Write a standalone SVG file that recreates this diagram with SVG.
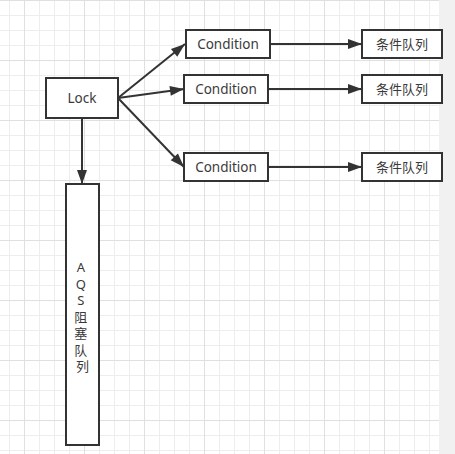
<svg xmlns="http://www.w3.org/2000/svg" width="455" height="454" viewBox="0 0 455 454">
  <defs>
    <pattern id="minor" patternUnits="userSpaceOnUse" x="0" y="0" width="15" height="15">
      <path d="M9.5,0 V15 M0,0.5 H15" stroke="#ededed" stroke-width="1" fill="none"/>
    </pattern>
    <pattern id="major" patternUnits="userSpaceOnUse" x="0" y="0" width="60" height="60">
      <path d="M24.5,0 V60 M0,0.5 H60" stroke="#e0e0e0" stroke-width="1" fill="none"/>
    </pattern>
    <marker id="arrow" markerUnits="userSpaceOnUse" markerWidth="15" markerHeight="11" refX="14" refY="5" orient="auto" overflow="visible">
      <path d="M0,0 L14,5 L0,10 Z" fill="#333"/>
    </marker>
  </defs>
  <style>
    .box { fill: #fff; stroke: #333; stroke-width: 2; }
    .lbl { font-family: "Noto Sans", "Noto Sans CJK SC", sans-serif; font-size: 13px; fill: #3a3a3a; text-anchor: middle; }
    .lat { font-size: 13.5px; }
    .edge { stroke: #333; stroke-width: 2; fill: none; marker-end: url(#arrow); }
  </style>
  <rect x="0" y="0" width="455" height="454" fill="#fff"/>
  <rect x="0" y="0" width="439" height="454" fill="url(#minor)"/>
  <rect x="0" y="0" width="439" height="454" fill="url(#major)"/>
  <rect x="439" y="0" width="16" height="454" fill="#f1f1f1"/>

  <g id="connectors">
    <path class="edge" d="M118,98 L185,44"/>
    <path class="edge" d="M118,98 L184,89"/>
    <path class="edge" d="M118,98 L184,167"/>
    <path class="edge" d="M82,118 L82,184"/>
    <path class="edge" d="M270,44 L362,44"/>
    <path class="edge" d="M268,89 L362,89"/>
    <path class="edge" d="M268,167 L362,167"/>
  </g>

  <g id="lock">
    <rect class="box" x="46" y="78" width="72" height="40"/>
    <text class="lbl lat" x="82" y="103">Lock</text>
  </g>
  <g id="condition1">
    <rect class="box" x="186" y="30" width="84" height="28"/>
    <text class="lbl lat" x="228" y="48.5">Condition</text>
  </g>
  <g id="condition2">
    <rect class="box" x="184" y="75" width="84" height="28"/>
    <text class="lbl lat" x="226" y="93.5">Condition</text>
  </g>
  <g id="condition3">
    <rect class="box" x="184" y="153" width="84" height="28"/>
    <text class="lbl lat" x="226" y="171.5">Condition</text>
  </g>
  <g id="queue1">
    <rect class="box" x="362" y="30" width="80" height="28"/>
    <text class="lbl" x="402" y="48.5">条件队列</text>
  </g>
  <g id="queue2">
    <rect class="box" x="362" y="75" width="80" height="28"/>
    <text class="lbl" x="402" y="93.5">条件队列</text>
  </g>
  <g id="queue3">
    <rect class="box" x="362" y="153" width="80" height="28"/>
    <text class="lbl" x="402" y="171.5">条件队列</text>
  </g>
  <g id="aqs">
    <rect class="box" x="66" y="184" width="33" height="261"/>
    <text class="lbl" x="82.5" y="272">
      <tspan x="82.5" y="272">A</tspan>
      <tspan x="82.5" y="288.5">Q</tspan>
      <tspan x="82.5" y="305">S</tspan>
      <tspan x="82.5" y="321.5">阻</tspan>
      <tspan x="82.5" y="338">塞</tspan>
      <tspan x="82.5" y="354.5">队</tspan>
      <tspan x="82.5" y="371">列</tspan>
    </text>
  </g>
</svg>
